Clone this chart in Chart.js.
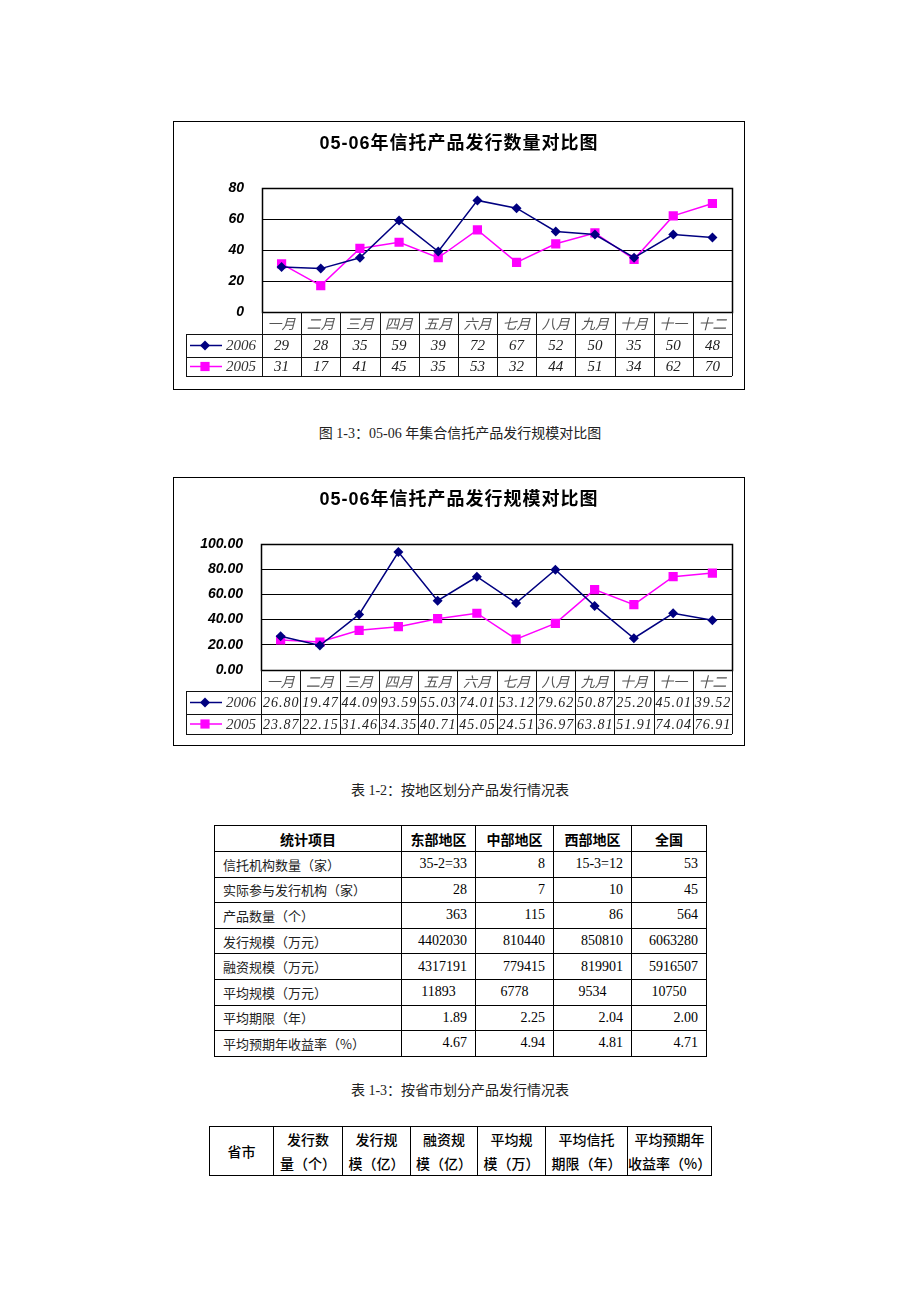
<!DOCTYPE html>
<html><head><meta charset="utf-8">
<script src="https://cdn.jsdelivr.net/npm/chart.js@4.4.0/dist/chart.umd.min.js"></script>
<style>
body{margin:0;background:#fff;width:920px;height:1302px;position:relative;overflow:hidden;font-family:"Liberation Serif","Noto Sans CJK SC",serif;color:#000;}
.wrap{position:absolute;left:173px;width:572px;height:269px;}
.frame{position:absolute;left:173px;width:572px;height:269px;border:1px solid #000;box-sizing:border-box;pointer-events:none;}
.title{position:absolute;left:173px;width:572px;text-align:center;font:bold 18px "Liberation Sans","Noto Sans CJK SC",sans-serif;letter-spacing:1px;line-height:22px;white-space:nowrap;}
.cap{position:absolute;left:0;width:920px;text-align:center;font-size:14px;line-height:18px;color:#222;}
table{position:absolute;border-collapse:collapse;table-layout:fixed;}
td,th{border:1px solid #000;padding:0;}
.t1{left:214px;top:825px;width:492px;border:1.5px solid #000;}
.t1 th{height:25px;font:bold 14px "Noto Sans CJK SC",sans-serif;text-align:center;}
.t1 td{height:24.6px;font-size:14px;text-align:right;padding-right:8px;line-height:16px;}
.t1 td.item{text-align:left;padding-left:8px;padding-right:0;font:13px "Noto Sans CJK SC",sans-serif;color:#222;}
.t1 td.c{text-align:center;padding-right:0;}
.t2{left:209px;top:1126px;width:502px;border:1.5px solid #000;}
.t2 td{height:47px;text-align:center;font:500 14px "Noto Sans CJK SC",sans-serif;line-height:24px;}
</style>
</head><body>

<div class="wrap" id="w1" style="top:121px"><canvas id="c1"></canvas></div>
<div class="frame" style="top:121px"></div>
<div class="title" id="t1" style="top:132px"></div>

<div class="cap" id="cap1" style="top:425px"></div>

<div class="wrap" id="w2" style="top:477px"><canvas id="c2"></canvas></div>
<div class="frame" style="top:477px"></div>
<div class="title" id="t2" style="top:488px"></div>

<div class="cap" id="cap2" style="top:782px"></div>
<table class="t1" id="tab1"></table>

<div class="cap" id="cap3" style="top:1082px"></div>
<table class="t2" id="tab2"></table>

<script>
// ---------- data ----------
const months = ['一月','二月','三月','四月','五月','六月','七月','八月','九月','十月','十一','十二'];
const seriesNames = ['2006','2005'];
const count2006 = [29,28,35,59,39,72,67,52,50,35,50,48];
const count2005 = [31,17,41,45,35,53,32,44,51,34,62,70];
const scale2006 = [26.80,19.47,44.09,93.59,55.03,74.01,53.12,79.62,50.87,25.20,45.01,39.52];
const scale2005 = [23.87,22.15,31.46,34.35,40.71,45.05,24.51,36.97,63.81,51.91,74.04,76.91];
const countTicks = [0,20,40,60,80];
const scaleTicks = [0,20,40,60,80,100];

const title1 = '05-06年信托产品发行数量对比图';
const title2 = '05-06年信托产品发行规模对比图';
const caption1 = '图 1-3：05-06 年集合信托产品发行规模对比图';
const caption2 = '表 1-2：按地区划分产品发行情况表';
const caption3 = '表 1-3：按省市划分产品发行情况表';

const regionHeaders = ['统计项目','东部地区','中部地区','西部地区','全国'];
const regionItems = ['信托机构数量（家）','实际参与发行机构（家）','产品数量（个）','发行规模（万元）','融资规模（万元）','平均规模（万元）','平均期限（年）','平均预期年收益率（%）'];
const eastValues    = ['35-2=33','28','363','4402030','4317191','11893','1.89','4.67'];
const centralValues = ['8','7','115','810440','779415','6778','2.25','4.94'];
const westValues    = ['15-3=12','10','86','850810','819901','9534','2.04','4.81'];
const totalValues   = ['53','45','564','6063280','5916507','10750','2.00','4.71'];

const provinceHeaders = [['省市'],['发行数','量（个）'],['发行规','模（亿）'],['融资规','模（亿）'],['平均规','模（万）'],['平均信托','期限（年）'],['平均预期年','收益率（%）']];

// ---------- text ----------
document.getElementById('t1').textContent = title1;
document.getElementById('t2').textContent = title2;
document.getElementById('cap1').textContent = caption1;
document.getElementById('cap2').textContent = caption2;
document.getElementById('cap3').textContent = caption3;

// ---------- tables ----------
(function(){
  const t = document.getElementById('tab1');
  const widths = [187,74,78,78,75];
  let h = '<colgroup>' + widths.map(w=>`<col style="width:${w}px">`).join('') + '</colgroup>';
  h += '<tr>' + regionHeaders.map(s=>`<th>${s}</th>`).join('') + '</tr>';
  const centered = new Set([5]);
  regionItems.forEach((item,i)=>{
    const cls = centered.has(i) ? ' class="c"' : '';
    h += `<tr><td class="item">${item}</td>` +
      [eastValues[i],centralValues[i],westValues[i],totalValues[i]].map(v=>`<td${cls}>${v}</td>`).join('') + '</tr>';
  });
  t.innerHTML = h;
  const t2 = document.getElementById('tab2');
  const w2 = [64,69,68,67,68,82,84];
  t2.innerHTML = '<colgroup>' + w2.map(w=>`<col style="width:${w}px">`).join('') + '</colgroup>' +
    '<tr>' + provinceHeaders.map(a=>`<td>${a.join('<br>')}</td>`).join('') + '</tr>';
})();

// ---------- charts ----------
const C06 = '#000080', C05 = '#ff00ff';

function marker(ctx, style, x, y, color){
  ctx.fillStyle = color;
  ctx.beginPath();
  if (style === 'rectRot'){
    const r = 5;
    ctx.moveTo(x, y-r); ctx.lineTo(x+r, y); ctx.lineTo(x, y+r); ctx.lineTo(x-r, y); ctx.closePath();
  } else {
    const s = 4.6;
    ctx.rect(x-s, y-s, 2*s, 2*s);
  }
  ctx.fill();
}

function tablePlugin(rowOffsets, legendLeft, fmt, valueFont, spacing){
  return {
    id: 'dataTable',
    afterDraw(chart){
      const {ctx, chartArea:a, scales:{x}} = chart;
      const labels = chart.data.labels;
      const n = labels.length;
      const cw = (a.right - a.left) / n;
      const y0 = a.bottom, y1 = y0 + rowOffsets[0], y2 = y0 + rowOffsets[1], y3 = y0 + rowOffsets[2];
      const P = v => Math.round(v) + 0.5;
      ctx.save();
      // plot frame
      ctx.strokeStyle = '#000'; ctx.lineWidth = 1.5;
      ctx.strokeRect(Math.round(a.left)+0.5, Math.round(a.top)+0.5, Math.round(a.right-a.left), Math.round(a.bottom-a.top));
      ctx.lineWidth = 1; ctx.strokeStyle = '#111';
      const line = (xa,ya,xb,yb)=>{ctx.beginPath();ctx.moveTo(xa,ya);ctx.lineTo(xb,yb);ctx.stroke();};
      [y1,y2,y3].forEach(yy=>line(legendLeft, P(yy), a.right, P(yy)));
      line(P(legendLeft), y1, P(legendLeft), y3);
      line(P(a.left), y0, P(a.left), y3);
      for (let i=0;i<n;i++){
        const bx = x.getPixelForValue(i) + cw/2;
        line(P(bx), y0, P(bx), y3);
      }
      // category labels
      ctx.textAlign = 'center'; ctx.textBaseline = 'middle';
      ctx.font = 'italic 14px "Noto Sans CJK SC"';
      ctx.fillStyle = '#555';
      labels.forEach((lab,i)=>ctx.fillText(lab, x.getPixelForValue(i), (y0+y1)/2 + 1));
      // value rows + legend
      const rowsY = [(y1+y2)/2, (y2+y3)/2];
      chart.data.datasets.forEach((ds,k)=>{
        const ry = rowsY[k] + 1;
        ctx.font = valueFont; ctx.fillStyle = '#222';
        if (spacing) ctx.letterSpacing = spacing;
        ctx.textAlign = 'center';
        ds.data.forEach((v,i)=>ctx.fillText(fmt(v), x.getPixelForValue(i) + (spacing?0.5:0), ry));
        ctx.letterSpacing = '0px';
        // legend key
        ctx.strokeStyle = ds.borderColor; ctx.lineWidth = 1.5;
        line(legendLeft+4, ry-1, legendLeft+36, ry-1);
        marker(ctx, ds.pointStyle, legendLeft+19, ry-1, ds.borderColor);
        ctx.font = 'italic 15px "Liberation Serif"'; ctx.fillStyle = '#333';
        ctx.textAlign = 'left';
        ctx.fillText(ds.label, legendLeft+40, ry);
        ctx.strokeStyle = '#111'; ctx.lineWidth = 1;
      });
      ctx.restore();
    }
  };
}

function makeChart(id, d06, d05, ticks, plotLeft, bottomPad, rowOffsets, fmtTick, fmtVal, valueFont, spacing){
  return new Chart(document.getElementById(id), {
    type: 'line',
    data: {
      labels: months,
      datasets: [
        {label: seriesNames[0], data: d06, borderColor: C06, backgroundColor: C06, pointStyle: 'rectRot', pointRadius: 5, pointBorderWidth: 0, borderWidth: 1.5, tension: 0},
        {label: seriesNames[1], data: d05, borderColor: C05, backgroundColor: C05, pointStyle: 'rect', pointRadius: 6.5, pointBorderWidth: 0, borderWidth: 1.5, tension: 0}
      ]
    },
    options: {
      responsive: true, maintainAspectRatio: false, animation: false,
      devicePixelRatio: 1,
      layout: {padding: {top: 67, right: 13, bottom: bottomPad, left: 0}},
      plugins: {legend: {display: false}, tooltip: {enabled: false}, title: {display: false}},
      scales: {
        x: {type: 'category', offset: true, display: false},
        y: {
          min: ticks[0], max: ticks[ticks.length-1],
          afterBuildTicks: s => { s.ticks = ticks.map(v=>({value: v})); },
          afterFit: s => { s.width = plotLeft; },
          border: {display: false},
          grid: {color: '#000', lineWidth: 1, drawTicks: false},
          ticks: {padding: 18, color: '#000', font: {family: '"Liberation Sans"', size: 14, style: 'italic', weight: 'bold'}, callback: v => fmtTick(v)}
        }
      }
    },
    plugins: [tablePlugin(rowOffsets, 13, fmtVal, valueFont, spacing)]
  });
}

makeChart('c1', count2006, count2005, countTicks, 89, 78, [22,45,64],
  v => String(v), v => String(v), 'italic 15px "Liberation Serif"', null);
makeChart('c2', scale2006, scale2005, scaleTicks, 88, 76, [21,44,64],
  v => Number(v).toFixed(2), v => v.toFixed(2), 'italic 14px "Liberation Serif"', '1px');
</script>
</body></html>
